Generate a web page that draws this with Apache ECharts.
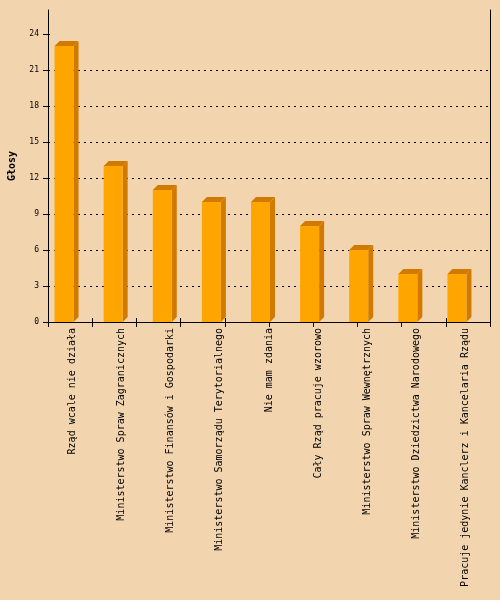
<!DOCTYPE html>
<html><head><meta charset="utf-8">
<script src="https://cdn.jsdelivr.net/npm/echarts@6/dist/echarts.min.js"></script>
<style>html,body{margin:0;padding:0;background:#F2D5AE;}#c{width:500px;height:600px;}</style>
</head><body><div id="c"></div>
<script>
const categories = [
  "Rząd wcale nie działa",
  "Ministerstwo Spraw Zagranicznych",
  "Ministerstwo Finansów i Gospodarki",
  "Ministerstwo Samorządu Terytorialnego",
  "Nie mam zdania",
  "Cały Rząd pracuje wzorowo",
  "Ministerstwo Spraw Wewnętrznych",
  "Ministerstwo Dziedzictwa Narodowego",
  "Pracuje jedynie Kanclerz i Kancelaria Rządu"
];
const votes = [23, 13, 11, 10, 10, 8, 6, 4, 4];
const yTicks = [0, 3, 6, 9, 12, 15, 18, 21, 24];
const yName = "Głosy";

const chart = echarts.init(document.getElementById('c'), null, {renderer: 'canvas'});
const mono = "DejaVu Sans Mono";
const FRONT = '#FFA500', DARK = '#D27A00';

chart.setOption({
  backgroundColor: '#F2D5AE',
  animation: false,
  grid: {left: 48, right: 10, top: 10, bottom: 278, containLabel: false, outerBoundsMode: 'none'},
  xAxis: [
    {type: 'category', data: categories, boundaryGap: true,
     axisLine: {show: true, lineStyle: {color: '#000', width: 1}},
     axisTick: {show: false},
     axisLabel: {interval: 0, rotate: 90, margin: 6, fontFamily: mono, fontSize: 10, color: '#000'}},
    {type: 'value', min: 0, max: 10, interval: 1, position: 'bottom',
     axisLine: {show: false}, splitLine: {show: false}, axisLabel: {show: false},
     axisTick: {show: true, inside: false, length: 5, lineStyle: {color: '#000'}}},
    {type: 'value', min: 0, max: 10, interval: 1, position: 'bottom',
     axisLine: {show: false}, splitLine: {show: false}, axisLabel: {show: false},
     axisTick: {show: true, inside: true, length: 4, lineStyle: {color: '#000'}}}
  ],
  yAxis: [
    {type: 'value', min: 0, max: 26, interval: 3, position: 'left',
     name: yName, nameLocation: 'middle', nameGap: 31, nameRotate: 90,
     nameTextStyle: {fontFamily: mono, fontSize: 10, fontWeight: 'bold', color: '#000'},
     axisLine: {show: true, lineStyle: {color: '#000', width: 1}},
     axisTick: {show: true, length: 5, customValues: yTicks, lineStyle: {color: '#000'}},
     axisLabel: {customValues: yTicks, margin: 9, fontFamily: mono, fontSize: 8, color: '#000'},
     splitLine: {show: true, showMaxLine: false, showMinLine: false,
                 lineStyle: {color: '#000', width: 1, type: [2, 4]}}},
    {type: 'value', min: 0, max: 26, interval: 3, position: 'right',
     axisLine: {show: true, onZero: false, lineStyle: {color: '#000', width: 1}},
     axisTick: {show: false}, axisLabel: {show: false}, splitLine: {show: false}},
    {type: 'value', min: 0, max: 26, interval: 3, position: 'left',
     axisLine: {show: false},
     axisTick: {show: true, inside: true, length: 2, customValues: yTicks, lineStyle: {color: '#000'}},
     axisLabel: {show: false}, splitLine: {show: false}}
  ],
  series: [{
    type: 'custom',
    xAxisIndex: 0, yAxisIndex: 0,
    data: votes.map((v, i) => [i, v]),
    encode: {x: 0, y: 1},
    renderItem: function (params, api) {
      const top = api.coord([api.value(0), api.value(1)]);
      const base = api.coord([api.value(0), 0]);
      const x0 = top[0] - 18, x1 = top[0] + 1, d = 5;
      const yt = top[1], yb = base[1];
      return {type: 'group', children: [
        {type: 'polygon', shape: {points: [[x1, yt], [x1 + d, yt - d], [x1 + d, yb - d], [x1, yb]]}, style: {fill: DARK}},
        {type: 'polygon', shape: {points: [[x0, yt], [x0 + d, yt - d], [x1 + d, yt - d], [x1, yt]]}, style: {fill: DARK}},
        {type: 'rect', shape: {x: x0, y: yt, width: x1 - x0, height: yb - yt}, style: {fill: FRONT}}
      ]};
    }
  }]
});
</script></body></html>
